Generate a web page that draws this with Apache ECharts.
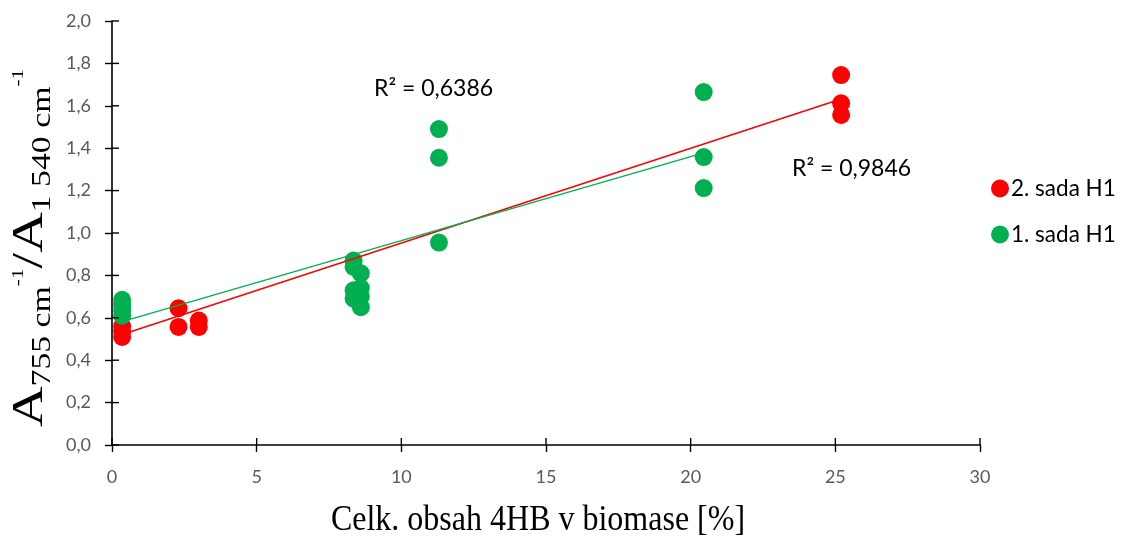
<!DOCTYPE html>
<html>
<head>
<meta charset="utf-8">
<script src="https://cdn.jsdelivr.net/npm/echarts@6/dist/echarts.min.js"></script>
<style>html,body{margin:0;padding:0;background:#fff}#c{width:1125px;height:539px}</style>
</head>
<body>
<div id="c"></div>
<script>
// ---- data ----
const set2X = [0.35, 0.35, 0.35, 2.3, 2.3, 3.0, 3.0, 25.2, 25.2, 25.2];
const set2Y = [0.51, 0.535, 0.56, 0.645, 0.557, 0.587, 0.557, 1.745, 1.612, 1.557];
const set1X = [0.35, 0.35, 0.35, 0.35, 8.35, 8.35, 8.35, 8.35, 8.6, 8.6, 8.6, 8.6, 11.3, 11.3, 11.3, 20.45, 20.45, 20.45];
const set1Y = [0.61, 0.635, 0.66, 0.685, 0.87, 0.84, 0.73, 0.69, 0.81, 0.74, 0.70, 0.65, 1.49, 1.355, 0.955, 1.665, 1.358, 1.212];
const trend2X = [0.35, 25.2];
const trend2Y = [0.521, 1.632];
const trend1X = [0.35, 20.45];
const trend1Y = [0.582, 1.378];
const seriesNames = ['2. sada H1', '1. sada H1'];
const r2Labels = ['R² = 0,6386', 'R² = 0,9846'];
const xTicks = [0, 5, 10, 15, 20, 25, 30];
const yTicks = [0, 0.2, 0.4, 0.6, 0.8, 1.0, 1.2, 1.4, 1.6, 1.8, 2.0];

const pairs = (xs, ys) => xs.map((x, i) => [x, ys[i]]);
const RED = '#FF0000', GREEN = '#00B050';
const labFont = 'Lato, "Open Sans", sans-serif';
const serif = '"Liberation Serif", serif';
const TICK = 7;

const chart = echarts.init(document.getElementById('c'), null, {renderer: 'canvas'});
const tickStyle = {color: '#000', width: 1.4};
chart.setOption({
  animation: false,
  grid: {left: 112, right: 145, top: 21, bottom: 94, containLabel: false},
  legend: {
    data: seriesNames, orient: 'vertical', left: 986, top: 172, itemGap: 23,
    icon: 'circle', itemWidth: 18, itemHeight: 18,
    textStyle: {fontFamily: labFont, fontSize: 22.5, color: '#000', padding: [0, 0, 0, -3]}
  },
  xAxis: {
    type: 'value', min: xTicks[0], max: xTicks[xTicks.length - 1], interval: 5,
    axisLine: {show: true, lineStyle: {color: '#000', width: 1.6}}, splitLine: {show: false},
    axisTick: {show: true, length: TICK, lineStyle: tickStyle},
    axisLabel: {color: '#595959', fontFamily: labFont, fontSize: 18, margin: 23}
  },
  yAxis: {
    type: 'value', min: yTicks[0], max: yTicks[yTicks.length - 1], interval: 0.2,
    axisLine: {show: true, lineStyle: {color: '#000', width: 1.6}}, splitLine: {show: false},
    axisTick: {show: true, length: TICK, lineStyle: tickStyle},
    axisLabel: {color: '#595959', fontFamily: labFont, fontSize: 18, margin: 21,
      formatter: v => v.toFixed(1).replace('.', ',')}
  },
  series: [
    {name: seriesNames[0], type: 'scatter', data: pairs(set2X, set2Y), symbolSize: 18,
      itemStyle: {color: RED, opacity: 1}, z: 2},
    {name: seriesNames[1], type: 'scatter', data: pairs(set1X, set1Y), symbolSize: 18,
      itemStyle: {color: GREEN, opacity: 1}, z: 3},
    {name: 'trend2', type: 'line', data: pairs(trend2X, trend2Y), showSymbol: false, symbol: 'none',
      lineStyle: {color: RED, width: 1.5}, z: 4, silent: true},
    {name: 'trend1', type: 'line', data: pairs(trend1X, trend1Y), showSymbol: false, symbol: 'none',
      lineStyle: {color: GREEN, width: 1.5}, z: 5, silent: true},
    // inner halves of the cross tick marks, placed via the axis scales
    {name: 'xInnerTicks', type: 'custom', silent: true, clip: false, z: 6,
      data: xTicks.map(v => [v, yTicks[0]]),
      renderItem: (params, api) => {
        const p = api.coord([api.value(0), api.value(1)]);
        return {type: 'line', shape: {x1: p[0], y1: p[1] - TICK, x2: p[0], y2: p[1]},
          style: {stroke: '#000', lineWidth: 1.4}};
      }},
    {name: 'yInnerTicks', type: 'custom', silent: true, clip: false, z: 6,
      data: yTicks.map(v => [xTicks[0], v]),
      renderItem: (params, api) => {
        const p = api.coord([api.value(0), api.value(1)]);
        return {type: 'line', shape: {x1: p[0], y1: p[1], x2: p[0] + TICK, y2: p[1]},
          style: {stroke: '#000', lineWidth: 1.4}};
      }}
  ],
  graphic: [
    {type: 'text', x: 374, y: 89, style: {text: r2Labels[0], font: '23px ' + labFont, fill: '#000', textVerticalAlign: 'middle'}},
    {type: 'text', x: 792, y: 169, style: {text: r2Labels[1], font: '23px ' + labFont, fill: '#000', textVerticalAlign: 'middle'}},
    {type: 'text', x: 538, y: 521, scaleY: 1.1, style: {text: 'Celk. obsah 4HB v biomase [%]', font: '32px ' + serif,
      fill: '#000', textAlign: 'center', textVerticalAlign: 'middle'}},
    {type: 'text', x: 56, y: 248, rotation: Math.PI / 2, scaleX: 1.25,
      style: {
        text: '{a|A}{s|755 cm}{p|-1}{a|/A}{s|1 540 cm}{p|-1}',
        fill: '#000', textAlign: 'center', textVerticalAlign: 'bottom',
        rich: {
          a: {fontFamily: serif, fontSize: 45, lineHeight: 52, fill: '#000'},
          s: {fontFamily: serif, fontSize: 27, lineHeight: 24, verticalAlign: 'bottom', fill: '#000'},
          p: {fontFamily: serif, fontSize: 17, lineHeight: 17, verticalAlign: 'top', padding: [6, 0, 0, 0], fill: '#000'}
        }
      }}
  ]
});
</script>
</body>
</html>
